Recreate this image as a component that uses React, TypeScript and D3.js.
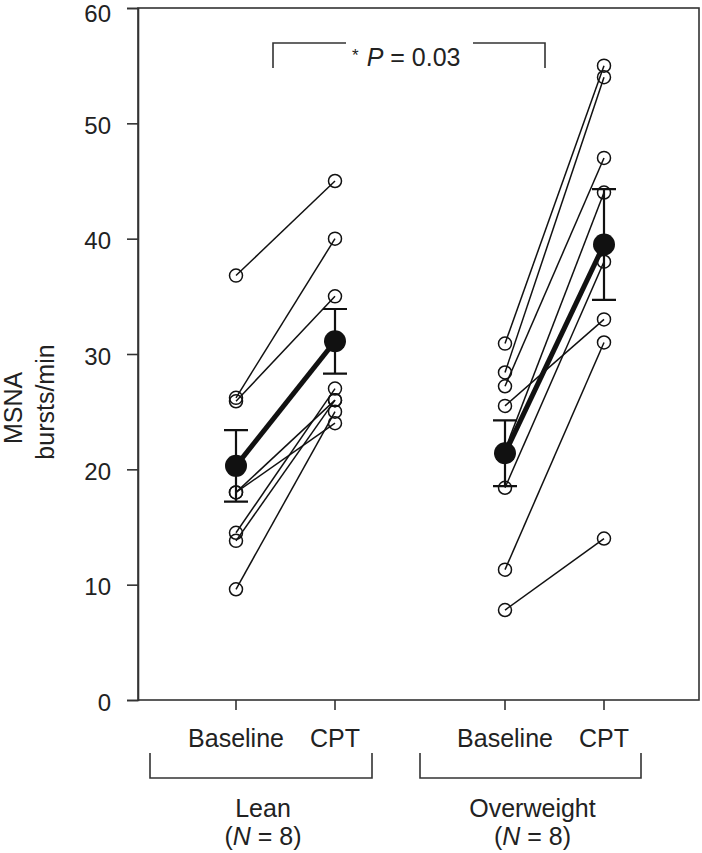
import React, { useEffect, useRef } from 'react'
import { select, scaleLinear, scalePoint, axisLeft } from 'd3'

const GROUPS = ['Lean', 'Overweight']
const CONDITIONS = ['Baseline', 'CPT']
const Y_TICKS = [0, 10, 20, 30, 40, 50, 60]

// paired subjects, baseline -> CPT (bursts/min)
const LEAN_BASELINE = [36.8, 26.2, 25.9, 18, 18, 14.5, 13.8, 9.6]
const LEAN_CPT = [45, 40, 35, 26, 24, 27, 26, 25]
const OW_BASELINE = [30.9, 28.4, 27.2, 21.7, 18.4, 25.5, 11.3, 7.8]
const OW_CPT = [55, 54, 47, 44, 38, 33, 31, 14]

// group means and SE
const LEAN_MEAN = [20.3, 31.1]
const LEAN_SE = [3.1, 2.8]
const OW_MEAN = [21.4, 39.5]
const OW_SE = [2.85, 4.8]

const P_LABEL = '0.03'

const App = () => {
    const svgRef = useRef<SVGSVGElement>(null)

    const width = 702
    const height = 853
    const margin = { top: 8, right: 2, bottom: 153, left: 138 }
    const font = '"Liberation Sans", Arial, sans-serif'
    const ink = '#222'

    useEffect(() => {
        const svg = select(svgRef.current)
        svg.selectAll('*').remove()

        const y = scaleLinear().domain([0, 60]).range([height - margin.bottom, margin.top])
        const gx = scalePoint().domain(GROUPS).range([285.5, 554.5])
        const cx = scalePoint().domain(CONDITIONS).range([-49.5, 49.5])
        const xPos = (g: string, c: string) => (gx(g) as number) + (cx(c) as number)

        const x0 = margin.left
        const x1 = width - margin.right
        const yb = height - margin.bottom

        // frame
        svg.append('rect')
            .attr('x', x0).attr('y', margin.top)
            .attr('width', x1 - x0 - 1).attr('height', yb - margin.top)
            .attr('fill', 'none').attr('stroke', '#333').attr('stroke-width', 1.6)

        const yAxis = svg.append('g')
            .attr('transform', `translate(${x0},0)`)
            .call(axisLeft(y).tickValues(Y_TICKS).tickSize(11).tickPadding(16))
        yAxis.select('.domain').attr('stroke', '#333').attr('stroke-width', 1.6)
        yAxis.selectAll('.tick line').attr('stroke', '#333').attr('stroke-width', 1.6)
        yAxis.selectAll('.tick text')
            .attr('font-family', font).attr('font-size', 24).attr('fill', ink)
            .attr('dy', (d: any) => (d === 60 ? '0.55em' : '0.42em'))

        // y label
        const yl = svg.append('g').attr('font-family', font)
            .attr('font-size', 25).attr('fill', ink).attr('text-anchor', 'middle')
        yl.append('text').attr('transform', 'translate(22,408) rotate(-90)').text('MSNA')
        yl.append('text').attr('transform', 'translate(54,402) rotate(-90)').text('bursts/min')

        // bottom ticks and condition labels
        GROUPS.forEach(g => {
            CONDITIONS.forEach(c => {
                const px = xPos(g, c)
                svg.append('line').attr('x1', px).attr('x2', px).attr('y1', yb).attr('y2', yb + 10)
                    .attr('stroke', '#333').attr('stroke-width', 1.6)
                svg.append('text').attr('x', px).attr('y', yb + 47)
                    .attr('text-anchor', 'middle').attr('font-family', font)
                    .attr('font-size', 25).attr('fill', ink).text(c)
            })
        })

        // group brackets
        const brackets = [[150, 372], [420, 641]]
        GROUPS.forEach((g, i) => {
            const [bx0, bx1] = brackets[i]
            svg.append('path')
                .attr('d', `M${bx0},${yb + 53}V${yb + 78}H${bx1}V${yb + 53}`)
                .attr('fill', 'none').attr('stroke', '#333').attr('stroke-width', 1.6)
            const cxg = (bx0 + bx1) / 2 + 2
            svg.append('text').attr('x', cxg).attr('y', yb + 117)
                .attr('text-anchor', 'middle').attr('font-family', font)
                .attr('font-size', 25).attr('fill', ink).text(g)
            const t = svg.append('text').attr('x', cxg).attr('y', yb + 145)
                .attr('text-anchor', 'middle').attr('font-family', font)
                .attr('font-size', 25).attr('fill', ink)
            t.append('tspan').text('(')
            t.append('tspan').attr('font-style', 'italic').text('N')
            t.append('tspan').text(' = 8)')
        })

        // significance bracket
        svg.append('path').attr('d', 'M273,68V43H346M473,43H545V68')
            .attr('fill', 'none').attr('stroke', '#333').attr('stroke-width', 1.6)
        const pt = svg.append('text').attr('x', 352).attr('y', 66)
            .attr('font-family', font).attr('font-size', 25).attr('fill', ink)
        pt.append('tspan').attr('font-size', 17).attr('dy', -5).text('*')
        pt.append('tspan').attr('dy', 5).attr('dx', 8).attr('font-style', 'italic').text('P')
        pt.append('tspan').text(` = ${P_LABEL}`)

        const sets = [
            { g: 'Lean', base: LEAN_BASELINE, cpt: LEAN_CPT, m: LEAN_MEAN, se: LEAN_SE },
            { g: 'Overweight', base: OW_BASELINE, cpt: OW_CPT, m: OW_MEAN, se: OW_SE },
        ]

        sets.forEach(s => {
            const xb = xPos(s.g, 'Baseline')
            const xc = xPos(s.g, 'CPT')
            const plot = svg.append('g')

            plot.selectAll('.pair').data(s.base).enter().append('line')
                .attr('x1', xb).attr('y1', d => y(d))
                .attr('x2', xc).attr('y2', (d, i) => y(s.cpt[i]))
                .attr('stroke', '#111').attr('stroke-width', 1.5)

            // mean line + error bars
            plot.append('line')
                .attr('x1', xb).attr('y1', y(s.m[0])).attr('x2', xc).attr('y2', y(s.m[1]))
                .attr('stroke', '#111').attr('stroke-width', 5)
            ;[xb, xc].forEach((px, i) => {
                const lo = y(s.m[i] - s.se[i])
                const hi = y(s.m[i] + s.se[i])
                plot.append('path')
                    .attr('d', `M${px - 12},${hi}H${px + 12}M${px},${hi}V${lo}M${px - 12},${lo}H${px + 12}`)
                    .attr('fill', 'none').attr('stroke', '#111').attr('stroke-width', 2.2)
            })

            const circles = s.base.map(v => [xb, v]).concat(s.cpt.map(v => [xc, v]))
            plot.selectAll('.pt').data(circles).enter().append('circle')
                .attr('cx', d => d[0]).attr('cy', d => y(d[1])).attr('r', 6.5)
                .attr('fill', 'none').attr('stroke', '#111').attr('stroke-width', 1.5)

            plot.selectAll('.mean').data(s.m).enter().append('circle')
                .attr('cx', (d, i) => (i === 0 ? xb : xc)).attr('cy', d => y(d)).attr('r', 11)
                .attr('fill', '#111')
        })
    }, [])

    return (
        <svg ref={svgRef} width={width} height={height}
            style={{ position: 'absolute', left: 0, top: 0, background: '#fff' }} />
    )
}

export default App
